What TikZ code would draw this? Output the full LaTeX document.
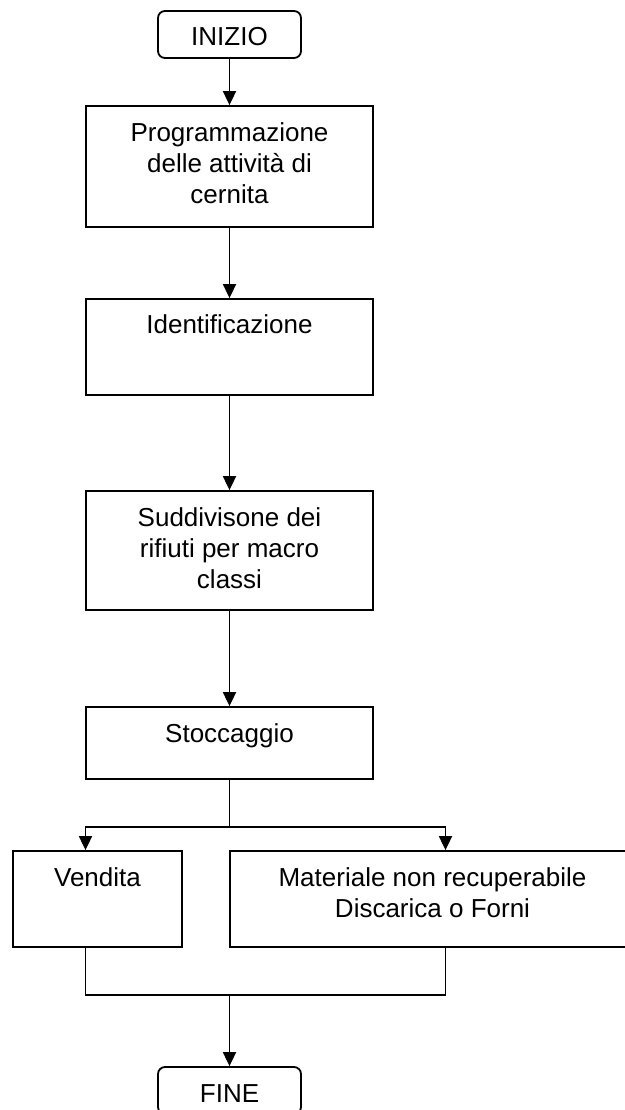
\documentclass[tikz,border=0pt]{standalone}
\usepackage{fontspec}
\setmainfont{Liberation Sans}
\usepackage{tikz}
\usetikzlibrary{positioning}
\usetikzlibrary{arrows.meta}

\begin{document}
\begin{tikzpicture}[line/.style={line width=1.8pt, color=black},
arrow/.style={line width=1.8pt, color=black, -{Triangle[width=13pt,length=14pt]}},
stepbox/.style={rectangle, draw=black, line width=1.8pt, inner sep=0pt, minimum width=287pt},
endbox/.style={rectangle, rounded corners=7pt, draw=black, line width=1.8pt, inner sep=0pt, minimum width=143pt, minimum height=47pt, text height=23pt, font=\fontsize{26}{31}\selectfont},
txt/.style={inner sep=0pt, align=center, font=\fontsize{26}{31}\selectfont}]
\useasboundingbox (0pt, 0pt) rectangle (624pt, -1110pt);
\node (inizio) [endbox] at (229.5pt, -34.5pt) {INIZIO};
\node (prog) [stepbox, minimum height=121pt] at (229.5pt, -166.5pt) {};
\node (ident) [stepbox, minimum height=96pt] at (229.5pt, -347.0pt) {};
\node (suddiv) [stepbox, minimum height=119pt] at (229.5pt, -550.5pt) {};
\node (stocc) [stepbox, minimum height=72pt] at (229.5pt, -743.0pt) {};
\node (vend) [stepbox, minimum width=169pt, minimum height=96pt] at (97.5pt, -899.0pt) {};
\node (mater) [stepbox, minimum width=405pt, minimum height=96pt] at (432.5pt, -899.0pt) {};
\node (fine) [endbox] at (229.5pt, -1090.5pt) {FINE};
\node (progtxt) [txt, below=17pt of prog.north] {Programmazione\\delle attività di\\cernita};
\node (identtxt) [txt, below=16pt of ident.north] {Identificazione};
\node (suddivtxt) [txt, below=17pt of suddiv.north] {Suddivisone dei\\rifiuti per macro\\classi};
\node (stocctxt) [txt, below=17pt of stocc.north] {Stoccaggio};
\node (vendtxt) [txt, below=17pt of vend.north] {Vendita};
\node (matertxt) [txt, below=17pt of mater.north] {Materiale non recuperabile\\Discarica o Forni};
\coordinate (split) at (229.5pt, -827.0pt);
\coordinate (merge) at (229.5pt, -995.0pt);
\draw [arrow] (inizio) to (prog);
\draw [arrow] (prog) to (ident);
\draw [arrow] (ident) to (suddiv);
\draw [arrow] (suddiv) to (stocc);
\draw [line] (stocc) to (split);
\draw [arrow] (split) -| ([xshift=-12pt]vend.north);
\draw [arrow] (split) -| ([xshift=13pt]mater.north);
\draw [line] ([xshift=-12pt]vend.south) |- (merge);
\draw [line] ([xshift=13pt]mater.south) |- (merge);
\draw [arrow] (merge) to (fine);
\end{tikzpicture}
\end{document}
